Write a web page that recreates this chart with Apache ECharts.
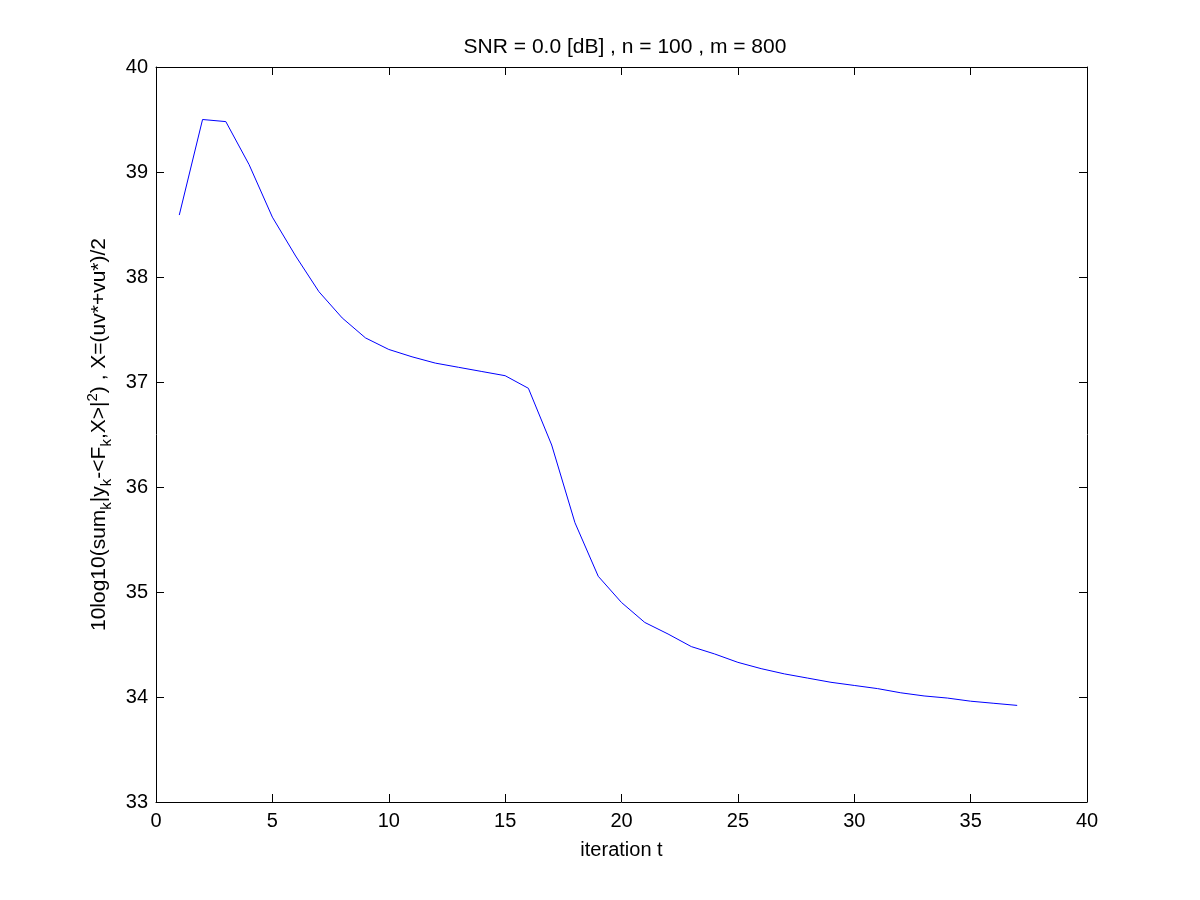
<!DOCTYPE html>
<html><head><meta charset="utf-8">
<script src="https://cdn.jsdelivr.net/npm/echarts@6/dist/echarts.min.js"></script>
<style>html,body{margin:0;padding:0;background:#fff}#c{width:1200px;height:900px}</style>
</head><body><div id="c"></div>
<script>
var iterations = [1,2,3,4,5,6,7,8,9,10,11,12,13,14,15,16,17,18,19,20,21,22,23,24,25,26,27,28,29,30,31,32,33,34,35,36,37];
var values = [38.59,39.50,39.48,39.07,38.57,38.20,37.86,37.61,37.42,37.31,37.24,37.18,37.14,37.10,37.06,36.94,36.40,35.66,35.15,34.90,34.71,34.60,34.48,34.41,34.33,34.27,34.22,34.18,34.14,34.11,34.08,34.04,34.01,33.99,33.96,33.94,33.92];
var xTicks = [0,5,10,15,20,25,30,35,40];
var yTicks = [33,34,35,36,37,38,39,40];
var titleText = 'SNR = 0.0 [dB] , n = 100 , m = 800';
var xName = 'iteration t';

var font = 'Liberation Sans, Arial, sans-serif';
var chart = echarts.init(document.getElementById('c'), null, {renderer:'canvas'});
var pts = iterations.map(function(x,i){return [x, values[i]];});
var axisLineStyle = {color:'#000', width:1};
var baseX = {type:'value', min:xTicks[0], max:xTicks[xTicks.length-1], interval:5, splitLine:{show:false},
  axisLine:{show:true, onZero:false, lineStyle:axisLineStyle},
  axisTick:{show:true, inside:true, length:8, lineStyle:axisLineStyle}};
var baseY = {type:'value', min:yTicks[0], max:yTicks[yTicks.length-1], interval:1, splitLine:{show:false},
  axisLine:{show:true, onZero:false, lineStyle:axisLineStyle},
  axisTick:{show:true, inside:true, length:8, lineStyle:axisLineStyle}};
var option = {
  backgroundColor:'#fff',
  animation:false,
  title:{text:titleText, left:620, top:32, textAlign:'center',
    textStyle:{fontFamily:font, fontSize:21, fontWeight:'normal', color:'#000'}},
  grid:{left:156, right:113, top:67, bottom:98, containLabel:false},
  xAxis:[
    Object.assign({}, baseX, {position:'bottom', name:xName, nameLocation:'middle', nameGap:38,
      nameTextStyle:{fontFamily:font, fontSize:20, color:'#000'},
      axisLabel:{show:true, margin:9, fontFamily:font, fontSize:20, color:'#000'}}),
    Object.assign({}, baseX, {position:'top', axisLabel:{show:false}})
  ],
  yAxis:[
    Object.assign({}, baseY, {position:'left',
      name:'{n|10log10(sum}{sub|k}{n||y}{sub|k}{n|-<F}{sub|k}{n|,X>|}{sup|2}{n|) , X=(uv*+vu*)/2}',
      nameLocation:'middle', nameGap:42, nameRotate:90,
      nameTextStyle:{fontFamily:font, fontSize:21, color:'#000',
        rich:{
          n:{fontFamily:font, fontSize:21, color:'#000'},
          sub:{fontFamily:font, fontSize:15, color:'#000', padding:[14,0,0,0]},
          sup:{fontFamily:font, fontSize:15, color:'#000', padding:[0,0,14,0]}
        }},
      axisLabel:{show:true, margin:8, fontFamily:font, fontSize:20, color:'#000'}}),
    Object.assign({}, baseY, {position:'right', axisLabel:{show:false}})
  ],
  series:[{type:'line', data:pts, xAxisIndex:0, yAxisIndex:0, showSymbol:false, symbol:'none',
    lineStyle:{color:'#0000ff', width:1}, itemStyle:{color:'#0000ff'}}]
};
chart.setOption(option);
</script></body></html>
